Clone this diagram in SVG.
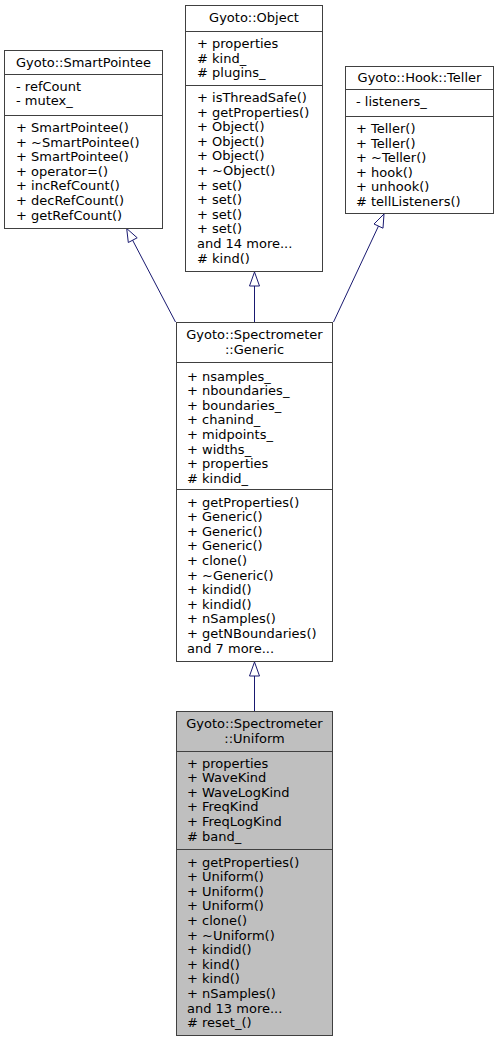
<svg xmlns="http://www.w3.org/2000/svg" width="499" height="1043" viewBox="0 0 499 1043">
<style>
.box{fill:#ffffff;stroke:#404040;stroke-width:1}
.cur{fill:#bfbfbf;stroke:#404040;stroke-width:1}
.sep{stroke:#404040;stroke-width:1}
text{font-family:"DejaVu Sans",sans-serif;font-size:13px;fill:#000000}
.t{text-anchor:middle}
.edge{stroke:#191970;stroke-width:1;fill:none}
.ah{stroke:#191970;stroke-width:1;fill:#ffffff}
</style>
<rect width="499" height="1043" fill="#ffffff"/>
<g id="connectors">
<line class="edge" x1="175.5" y1="322" x2="132.5" y2="240"/>
<polygon class="ah" points="126.7,228.5 128.3,242.5 137.2,237.8"/>
<line class="edge" x1="254.5" y1="322" x2="254.5" y2="286"/>
<polygon class="ah" points="254.5,272 249.5,286 259.5,286"/>
<line class="edge" x1="333.5" y1="322" x2="378.5" y2="226"/>
<polygon class="ah" points="384,214 374,224 383,228.2"/>
<line class="edge" x1="254.5" y1="711" x2="254.5" y2="676"/>
<polygon class="ah" points="254.5,662 249.5,676 259.5,676"/>
</g>
<g id="node-smartpointee">
<rect class="box" x="4.5" y="50.5" width="158" height="178"/>
<line class="sep" x1="4.5" y1="74.5" x2="162.5" y2="74.5"/>
<line class="sep" x1="4.5" y1="115.5" x2="162.5" y2="115.5"/>
<text class="t" x="83.5" y="67">Gyoto::SmartPointee</text>
<text x="16" y="90.5">- refCount</text>
<text x="16" y="105.1">- mutex_</text>
<text x="16" y="132">+ SmartPointee()</text>
<text x="16" y="146.6">+ ~SmartPointee()</text>
<text x="16" y="161.2">+ SmartPointee()</text>
<text x="16" y="175.8">+ operator=()</text>
<text x="16" y="190.4">+ incRefCount()</text>
<text x="16" y="205">+ decRefCount()</text>
<text x="16" y="219.6">+ getRefCount()</text>
</g>
<g id="node-object">
<rect class="box" x="185.5" y="5.5" width="137" height="266"/>
<line class="sep" x1="185.5" y1="31.5" x2="322.5" y2="31.5"/>
<line class="sep" x1="185.5" y1="85.5" x2="322.5" y2="85.5"/>
<text class="t" x="254" y="22">Gyoto::Object</text>
<text x="197" y="48">+ properties</text>
<text x="197" y="62.6"># kind_</text>
<text x="197" y="77.2"># plugins_</text>
<text x="197" y="102">+ isThreadSafe()</text>
<text x="197" y="116.6">+ getProperties()</text>
<text x="197" y="131.2">+ Object()</text>
<text x="197" y="145.8">+ Object()</text>
<text x="197" y="160.4">+ Object()</text>
<text x="197" y="175">+ ~Object()</text>
<text x="197" y="189.6">+ set()</text>
<text x="197" y="204.2">+ set()</text>
<text x="197" y="218.8">+ set()</text>
<text x="197" y="233.4">+ set()</text>
<text x="197" y="248">and 14 more...</text>
<text x="197" y="262.6"># kind()</text>
</g>
<g id="node-teller">
<rect class="box" x="345.5" y="66.5" width="148" height="147"/>
<line class="sep" x1="345.5" y1="89.5" x2="493.5" y2="89.5"/>
<line class="sep" x1="345.5" y1="116.5" x2="493.5" y2="116.5"/>
<text class="t" x="419.5" y="82">Gyoto::Hook::Teller</text>
<text x="356" y="106">- listeners_</text>
<text x="356" y="133">+ Teller()</text>
<text x="356" y="147.6">+ Teller()</text>
<text x="356" y="162.2">+ ~Teller()</text>
<text x="356" y="176.8">+ hook()</text>
<text x="356" y="191.4">+ unhook()</text>
<text x="356" y="206"># tellListeners()</text>
</g>
<g id="node-generic">
<rect class="box" x="176.5" y="322.5" width="156" height="339"/>
<line class="sep" x1="176.5" y1="362.5" x2="332.5" y2="362.5"/>
<line class="sep" x1="176.5" y1="489.5" x2="332.5" y2="489.5"/>
<text class="t" x="254.5" y="339">Gyoto::Spectrometer</text>
<text class="t" x="254.5" y="353.6">::Generic</text>
<text x="187" y="380.5">+ nsamples_</text>
<text x="187" y="395.1">+ nboundaries_</text>
<text x="187" y="409.7">+ boundaries_</text>
<text x="187" y="424.3">+ chanind_</text>
<text x="187" y="438.9">+ midpoints_</text>
<text x="187" y="453.5">+ widths_</text>
<text x="187" y="468.1">+ properties</text>
<text x="187" y="482.7"># kindid_</text>
<text x="187" y="506.5">+ getProperties()</text>
<text x="187" y="521.1">+ Generic()</text>
<text x="187" y="535.7">+ Generic()</text>
<text x="187" y="550.3">+ Generic()</text>
<text x="187" y="564.9">+ clone()</text>
<text x="187" y="579.5">+ ~Generic()</text>
<text x="187" y="594.1">+ kindid()</text>
<text x="187" y="608.7">+ kindid()</text>
<text x="187" y="623.3">+ nSamples()</text>
<text x="187" y="637.9">+ getNBoundaries()</text>
<text x="187" y="652.5">and 7 more...</text>
</g>
<g id="node-uniform">
<rect class="cur" x="176.5" y="711.5" width="156" height="324"/>
<line class="sep" x1="176.5" y1="751.5" x2="332.5" y2="751.5"/>
<line class="sep" x1="176.5" y1="849.5" x2="332.5" y2="849.5"/>
<text class="t" x="254.5" y="728">Gyoto::Spectrometer</text>
<text class="t" x="254.5" y="742.6">::Uniform</text>
<text x="187" y="767.5">+ properties</text>
<text x="187" y="782.1">+ WaveKind</text>
<text x="187" y="796.7">+ WaveLogKind</text>
<text x="187" y="811.3">+ FreqKind</text>
<text x="187" y="825.9">+ FreqLogKind</text>
<text x="187" y="840.5"># band_</text>
<text x="187" y="866.5">+ getProperties()</text>
<text x="187" y="881.1">+ Uniform()</text>
<text x="187" y="895.7">+ Uniform()</text>
<text x="187" y="910.3">+ Uniform()</text>
<text x="187" y="924.9">+ clone()</text>
<text x="187" y="939.5">+ ~Uniform()</text>
<text x="187" y="954.1">+ kindid()</text>
<text x="187" y="968.7">+ kind()</text>
<text x="187" y="983.3">+ kind()</text>
<text x="187" y="997.9">+ nSamples()</text>
<text x="187" y="1012.5">and 13 more...</text>
<text x="187" y="1027.1"># reset_()</text>
</g>
</svg>
